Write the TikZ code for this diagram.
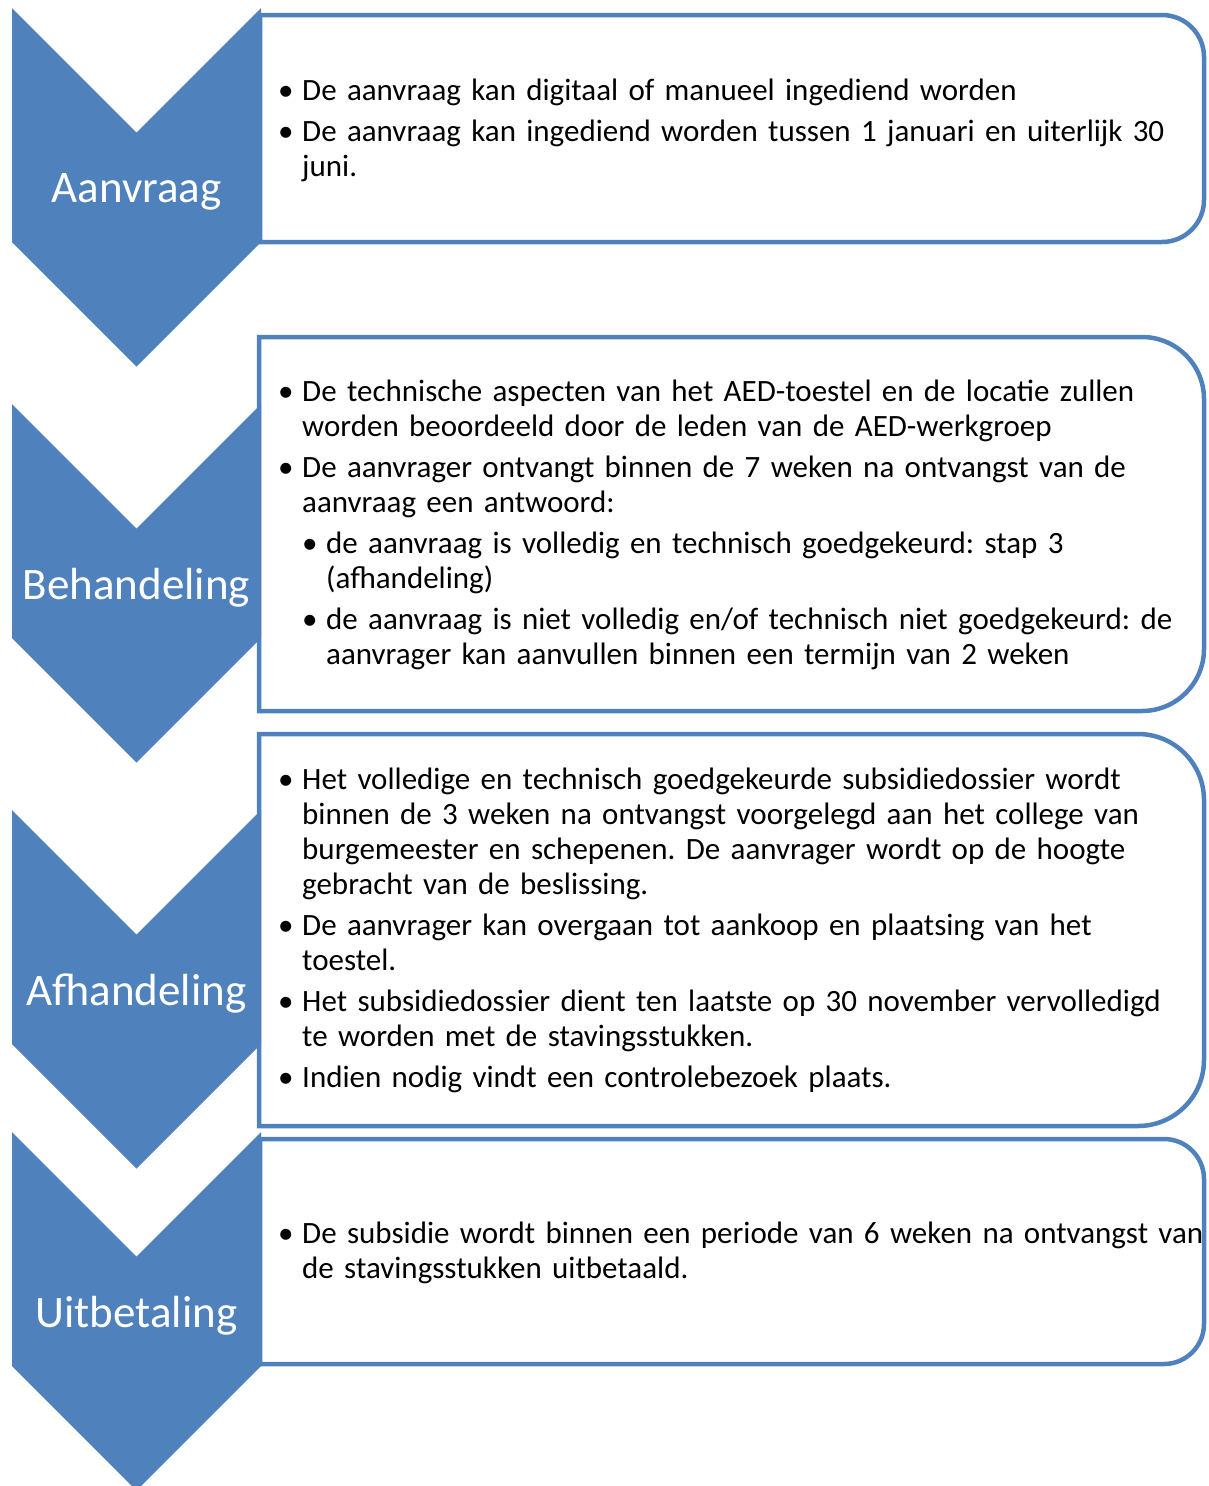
\documentclass[tikz,border=0pt]{standalone}
\usepackage{fontspec}
\setmainfont{Carlito}
\definecolor{stepblue}{HTML}{4F81BD}
\newcommand{\bul}[2][0pt]{\par\leftskip=#1\relax\hangindent=24pt\hangafter=1\noindent\makebox[24pt][l]{\textbullet}#2}

\begin{document}
\begin{tikzpicture}[x=1pt,y=-1pt,
  chev/.style={fill=stepblue},
  chevlbl/.style={text=white,font=\fontsize{45}{50}\selectfont,inner sep=0pt},
  itembox/.style={draw=stepblue,line width=4.5pt,fill=white},
  itemtxt/.style={anchor=west,inner sep=0pt,text width=935pt,align=left,font={\fontsize{31}{35}\selectfont\frenchspacing\spaceskip=0.2em plus 0.1em\parskip=6pt\relax}}]
\useasboundingbox (0,0) rectangle (1208,1486);
% boxes, rounded on the right side only
\draw[itembox] (260,15) [rounded corners=42pt] -- (1204,15) -- (1204,242) [sharp corners] -- (260,242) -- cycle;
\draw[itembox] (259,337) [rounded corners=62pt] -- (1204,337) -- (1204,711) [sharp corners] -- (259,711) -- cycle;
\draw[itembox] (259,734) [rounded corners=66pt] -- (1204,734) -- (1204,1126) [sharp corners] -- (259,1126) -- cycle;
\draw[itembox] (260,1139) [rounded corners=40pt] -- (1204,1139) -- (1204,1364) [sharp corners] -- (260,1364) -- cycle;
% chevrons
\foreach \n/\yt/\1 in %
{aan/8/Aanvraag,beh/404/Behandeling,afh/810/Afhandeling,uit/1132/Uitbetaling} {
   \fill[chev] (12,\yt) -- (136.5,\yt+124.5) -- (261,\yt) -- (261,\yt+234)
      -- (136.5,\yt+358.5) -- (12,\yt+234) -- cycle;
   \node[chevlbl] (lbl-\n) at (136.5,\yt+184) {\1};
}
\node[itemtxt] (txt-aan) at (278,120.5) {%
\bul{De aanvraag kan digitaal of manueel ingediend worden}
\bul{De aanvraag kan ingediend worden tussen 1 januari en uiterlijk 30\newline juni.}\par};
\node[itemtxt] (txt-beh) at (278,515) {%
\bul{De technische aspecten van het AED-toestel en de locatie zullen\newline worden beoordeeld door de leden van de AED-werkgroep}
\bul{De aanvrager ontvangt binnen de 7 weken na ontvangst van de\newline aanvraag een antwoord:}
\bul[24pt]{de aanvraag is volledig en technisch goedgekeurd: stap 3\newline (afhandeling)}
\bul[24pt]{de aanvraag is niet volledig en/of technisch niet goedgekeurd: de\newline aanvrager kan aanvullen binnen een termijn van 2 weken}\par};
\node[itemtxt] (txt-afh) at (278,921) {%
\bul{Het volledige en technisch goedgekeurde subsidiedossier wordt\newline binnen de 3 weken na ontvangst voorgelegd aan het college van\newline burgemeester en schepenen. De aanvrager wordt op de hoogte\newline gebracht van de beslissing.}
\bul{De aanvrager kan overgaan tot aankoop en plaatsing van het\newline toestel.}
\bul{Het subsidiedossier dient ten laatste op 30 november vervolledigd\newline te worden met de stavingsstukken.}
\bul{Indien nodig vindt een controlebezoek plaats.}\par};
\node[itemtxt] (txt-uit) at (278,1243.5) {%
\bul{De subsidie wordt binnen een periode van 6 weken na ontvangst van\newline de stavingsstukken uitbetaald.}\par};
\end{tikzpicture}
\end{document}
